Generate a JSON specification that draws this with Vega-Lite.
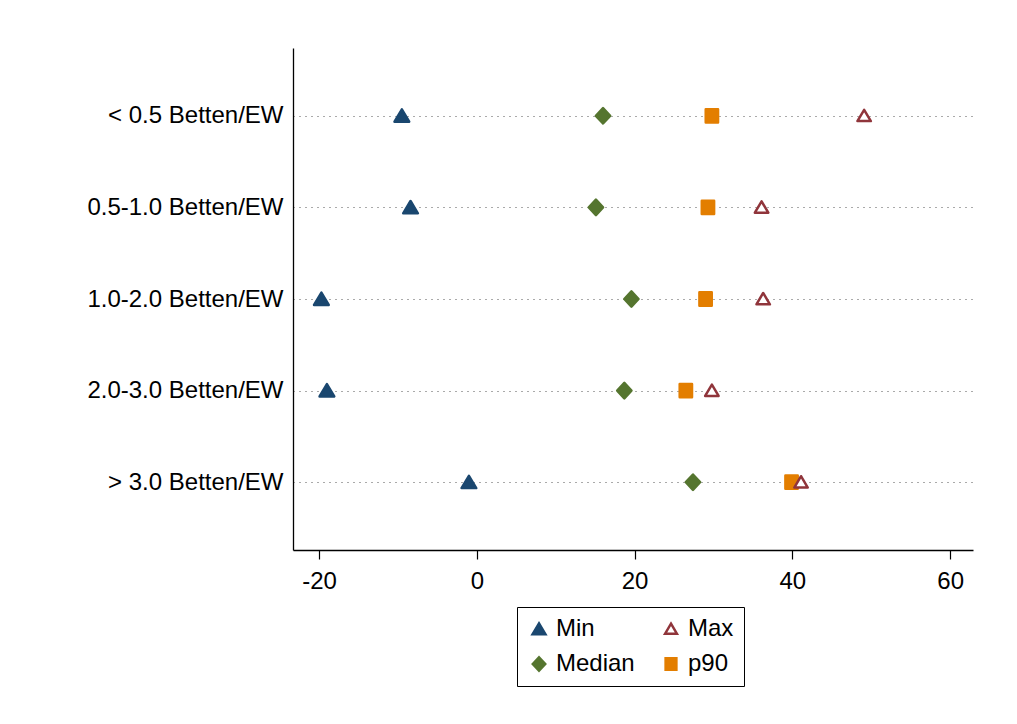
{
  "$schema": "https://vega.github.io/schema/vega-lite/v6.json",
  "autosize": {"type": "none"},
  "width": 680,
  "height": 502,
  "padding": {"left": 293, "top": 48, "right": 44, "bottom": 174},
  "background": "white",
  "config": {
    "view": {"stroke": null},
    "font": "Liberation Sans"
  },
  "data": {
    "values": [
      {"cat": "< 0.5 Betten/EW", "stat": "Min", "value": -9.5},
      {"cat": "< 0.5 Betten/EW", "stat": "Median", "value": 16.0},
      {"cat": "< 0.5 Betten/EW", "stat": "p90", "value": 29.8},
      {"cat": "< 0.5 Betten/EW", "stat": "Max", "value": 49.1},
      {"cat": "0.5-1.0 Betten/EW", "stat": "Min", "value": -8.4},
      {"cat": "0.5-1.0 Betten/EW", "stat": "Median", "value": 15.1},
      {"cat": "0.5-1.0 Betten/EW", "stat": "p90", "value": 29.3},
      {"cat": "0.5-1.0 Betten/EW", "stat": "Max", "value": 36.1},
      {"cat": "1.0-2.0 Betten/EW", "stat": "Min", "value": -19.7},
      {"cat": "1.0-2.0 Betten/EW", "stat": "Median", "value": 19.6},
      {"cat": "1.0-2.0 Betten/EW", "stat": "p90", "value": 29.0},
      {"cat": "1.0-2.0 Betten/EW", "stat": "Max", "value": 36.3},
      {"cat": "2.0-3.0 Betten/EW", "stat": "Min", "value": -19.0},
      {"cat": "2.0-3.0 Betten/EW", "stat": "Median", "value": 18.7},
      {"cat": "2.0-3.0 Betten/EW", "stat": "p90", "value": 26.5},
      {"cat": "2.0-3.0 Betten/EW", "stat": "Max", "value": 29.8},
      {"cat": "> 3.0 Betten/EW", "stat": "Min", "value": -1.0},
      {"cat": "> 3.0 Betten/EW", "stat": "Median", "value": 27.4},
      {"cat": "> 3.0 Betten/EW", "stat": "p90", "value": 39.9},
      {"cat": "> 3.0 Betten/EW", "stat": "Max", "value": 41.1}
    ]
  },
  "mark": {"type": "point", "opacity": 1, "strokeJoin": "round", "strokeWidth": 2.5, "size": 196},
  "encoding": {
    "y": {
      "field": "cat",
      "type": "nominal",
      "sort": ["< 0.5 Betten/EW", "0.5-1.0 Betten/EW", "1.0-2.0 Betten/EW", "2.0-3.0 Betten/EW", "> 3.0 Betten/EW"],
      "scale": {"type": "point", "padding": 0.74},
      "axis": {
        "title": null,
        "ticks": false,
        "labelFontSize": 24,
        "labelLimit": 500,
        "labelColor": "black",
        "labelPadding": 10,
        "domainColor": "black",
        "domainWidth": 1.3,
        "grid": true,
        "gridColor": "#555555",
        "gridDash": [1, 5],
        "gridWidth": 1
      }
    },
    "x": {
      "field": "value",
      "type": "quantitative",
      "scale": {"domain": [-23.3, 62.9], "nice": false, "zero": false},
      "axis": {
        "title": null,
        "values": [-20, 0, 20, 40, 60],
        "labelExpr": "'' + datum.value",
        "grid": false,
        "tickSize": 9,
        "tickColor": "black",
        "tickWidth": 1.2,
        "labelFontSize": 24,
        "labelColor": "black",
        "labelPadding": 10,
        "domainColor": "black",
        "domainWidth": 1.3
      }
    },
    "shape": {
      "field": "stat",
      "type": "nominal",
      "scale": {
        "domain": ["Min", "Max", "Median", "p90"],
        "range": [
          "M0,-0.92L1.05,0.84L-1.05,0.84Z",
          "M0,-0.86L0.96,0.76L-0.96,0.76Z",
          "M-1.02,0L0,-1.1L1.02,0L0,1.1Z",
          "M-0.88,-0.95L0.88,-0.95L0.88,0.95L-0.88,0.95Z"
        ]
      },
      "legend": {
        "title": null,
        "orient": "none",
        "legendX": 224,
        "legendY": 559,
        "columns": 2,
        "direction": "horizontal",
        "strokeColor": "black",
        "padding": 10,
        "labelFontSize": 24,
        "labelColor": "black",
        "labelOffset": 5,
        "columnPadding": 24,
        "rowPadding": 11,
        "symbolOpacity": 1,
        "symbolSize": 150,
        "symbolStrokeWidth": 2.5
      }
    },
    "stroke": {
      "field": "stat",
      "type": "nominal",
      "scale": {"domain": ["Min", "Max", "Median", "p90"], "range": ["#1a476f", "#90353b", "#55752f", "#e37e00"]}
    },
    "fill": {
      "field": "stat",
      "type": "nominal",
      "scale": {"domain": ["Min", "Max", "Median", "p90"], "range": ["#1a476f", "#ffffff", "#55752f", "#e37e00"]}
    }
  }
}
